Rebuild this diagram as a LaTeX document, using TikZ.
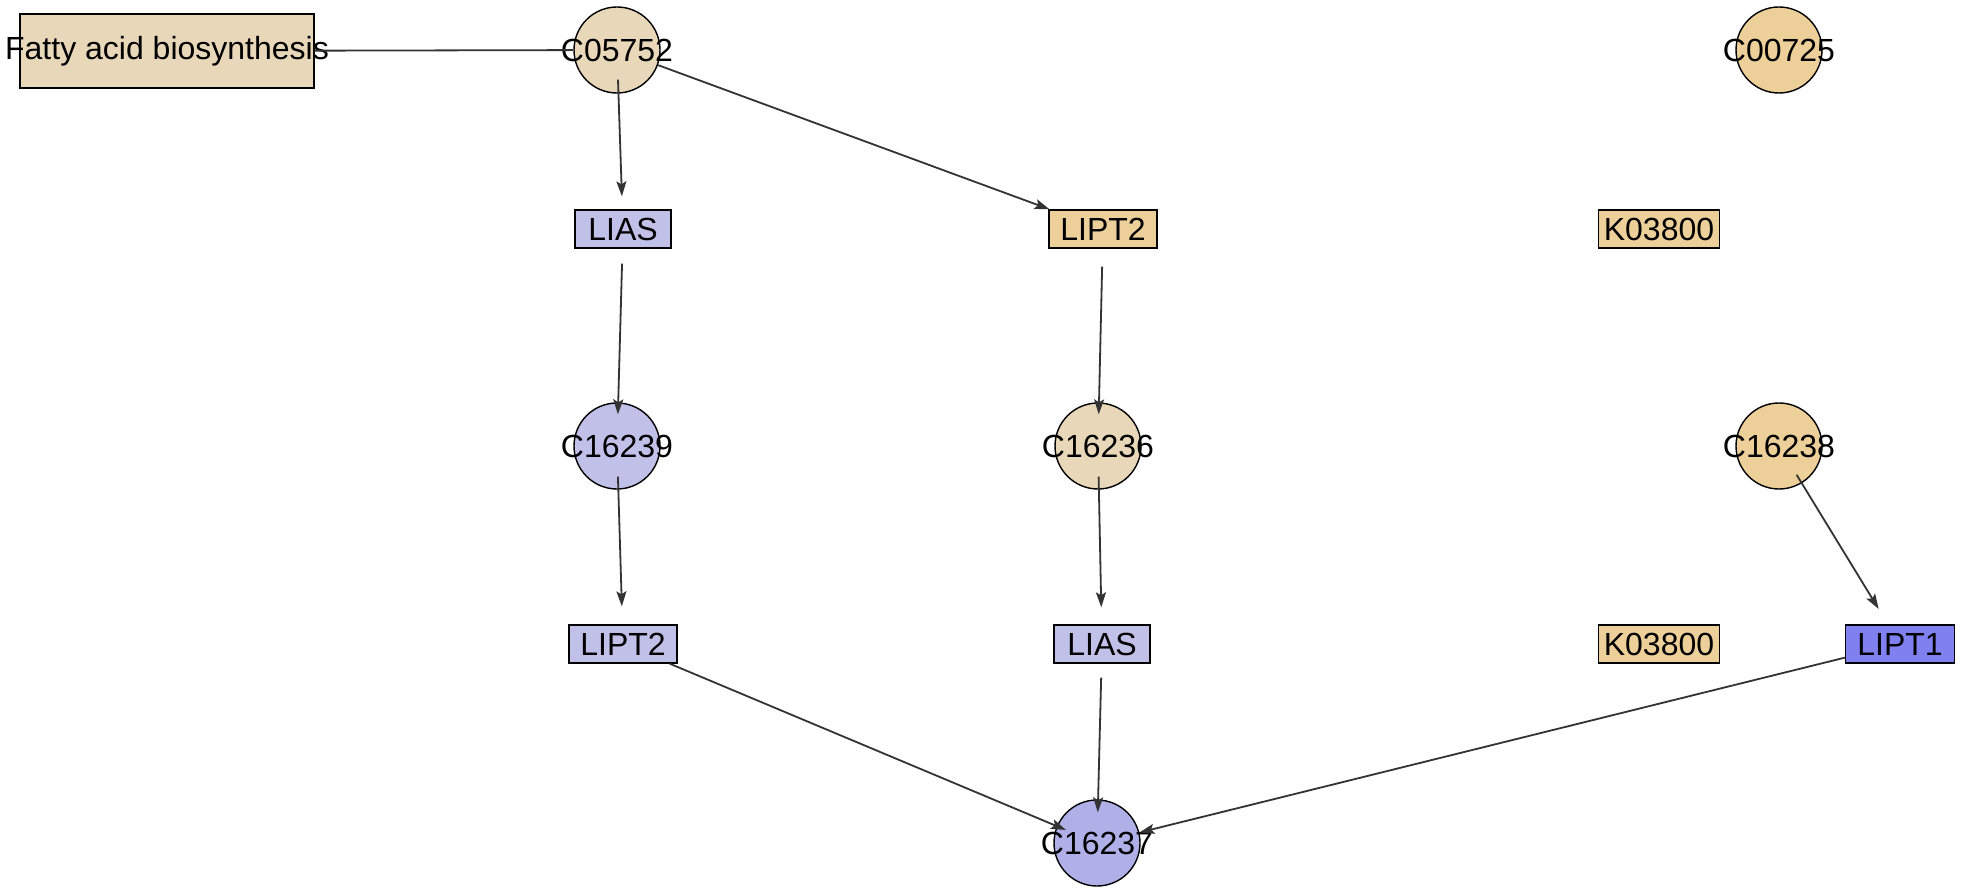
\documentclass[tikz,border=0pt]{standalone}
\usepackage{fontspec}
\setmainfont{Liberation Sans}
\usetikzlibrary{arrows.meta,positioning}
\definecolor{tan}{HTML}{E8D8B9}
\definecolor{ochre}{HTML}{EDCF99}
\definecolor{lav}{HTML}{C0C0E8}
\definecolor{lavdark}{HTML}{B0B0E8}
\definecolor{blu}{HTML}{8080F0}
\newcommand{\cpd}[1]{\makebox[0pt]{#1}}

\begin{document}
\begin{tikzpicture}[x=1pt, y=1pt,
    font=\fontsize{32}{38}\selectfont,
    cmpd/.style={draw, circle, line width=1.4pt, inner sep=0pt, minimum size=86pt},
    gene/.style={draw, rectangle, line width=1.4pt, inner sep=0pt, minimum height=38pt},
    link/.style={-{Stealth[length=15pt, width=10pt, inset=3pt]}, line width=1.8pt, draw=black!80, fill=black!80}]
    \useasboundingbox (0,0) rectangle (1963,-890);
    \node[draw, line width=1.4pt, fill=tan, inner sep=0pt, minimum height=74pt] (fab) at (167,-51) {\makebox[294pt]{Fatty acid biosynthesis}};
    \node[cmpd, fill=tan] (c05752) at (617,-50) {\cpd{C05752}};
    \node[cmpd, fill=ochre] (c00725) at (1779,-50) {\cpd{C00725}};
    \node[gene, fill=lav, minimum width=96pt] (lias1) at (623,-229) {LIAS};
    \node[gene, fill=ochre, minimum width=108pt] (lipt2a) at (1103,-229) {LIPT2};
    \node[gene, fill=ochre, minimum width=121pt] (k1) at (1659,-229) {K03800};
    \node[cmpd, fill=lav] (c16239) at (617,-446) {\cpd{C16239}};
    \node[cmpd, fill=tan] (c16236) at (1098,-446) {\cpd{C16236}};
    \node[cmpd, fill=ochre] (c16238) at (1779,-446) {\cpd{C16238}};
    \node[gene, fill=lav, minimum width=108pt] (lipt2b) at (623,-644) {LIPT2};
    \node[gene, fill=lav, minimum width=96pt] (lias2) at (1102,-644) {LIAS};
    \node[gene, fill=ochre, minimum width=121pt] (k2) at (1659,-644) {K03800};
    \node[gene, fill=blu, minimum width=109pt] (lipt1) at (1900,-644) {LIPT1};
    \node[cmpd, fill=lavdark] (c16237) at (1097,-843) {\cpd{C16237}};
    \draw[line width=1.8pt, draw=black!80] (fab) -- (c05752);
    \draw[link, shorten <=-14pt, shorten >=13pt] (c05752) -- (lias1);
    \draw[link] (c05752) -- (lipt2a);
    \draw[link, shorten <=15pt, shorten >=-12pt] (lias1) -- (c16239);
    \draw[link, shorten <=18pt, shorten >=-12pt] (lipt2a) -- (c16236);
    \draw[link, shorten <=-13pt, shorten >=18pt] (c16239) -- (lipt2b);
    \draw[link, shorten <=-13pt, shorten >=17pt] (c16236) -- (lias2);
    \draw[link, shorten <=-10pt, shorten >=18pt] (c16238) -- (lipt1);
    \draw[link, shorten >=-10pt] (lipt2b) -- (c16237);
    \draw[link, shorten <=14pt, shorten >=-13pt] (lias2) -- (c16237);
    \draw[link] (lipt1) -- (c16237);
\end{tikzpicture}
\end{document}
